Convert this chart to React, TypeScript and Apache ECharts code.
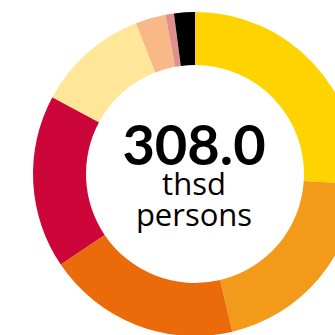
import React, { useEffect, useRef } from "react";
import * as echarts from "echarts";

const categories = ["A", "B", "C", "D", "E", "F", "G", "H"];
const values = [80.1, 62.5, 59.3, 53.3, 34.5, 9.3, 2.6, 6.4];
const colors = ["#FFD300", "#F39A1B", "#EB6B0A", "#CC0638", "#FFE699", "#F8B888", "#E0918F", "#000000"];
const totalLabel = "308.0";
const unitLines = ["thsd", "persons"];

export default function App() {
  const ref = useRef<HTMLDivElement>(null);
  useEffect(() => {
    if (!ref.current) return;
    const chart = echarts.init(ref.current, null, { renderer: "svg" });
    chart.setOption({
      animation: false,
      graphic: [
        {
          type: "text",
          x: 194,
          y: 174,
          style: {
            text: `{a|${totalLabel}}\n{b|${unitLines[0]}}\n{b|${unitLines[1]}}`,
            align: "center",
            verticalAlign: "middle",
            rich: {
              a: {
                fontFamily: "Lato",
                fontWeight: "bold",
                fontSize: 56,
                lineHeight: 49,
                color: "#000",
                align: "center",
              },
              b: {
                fontFamily: "Open Sans",
                fontSize: 31,
                lineHeight: 31,
                color: "#000",
                align: "center",
              },
            },
          },
        },
      ],
      series: [
        {
          type: "pie",
          center: [195, 174],
          radius: [109, 162],
          startAngle: 90,
          clockwise: true,
          label: { show: false },
          labelLine: { show: false },
          silent: true,
          data: categories.map((c, i) => ({
            name: c,
            value: values[i],
            itemStyle: { color: colors[i] },
          })),
        },
      ],
    });
    return () => chart.dispose();
  }, []);
  return (
    <div
      ref={ref}
      style={{ position: "fixed", left: 0, top: 0, width: 335, height: 335, background: "#fff" }}
    />
  );
}
